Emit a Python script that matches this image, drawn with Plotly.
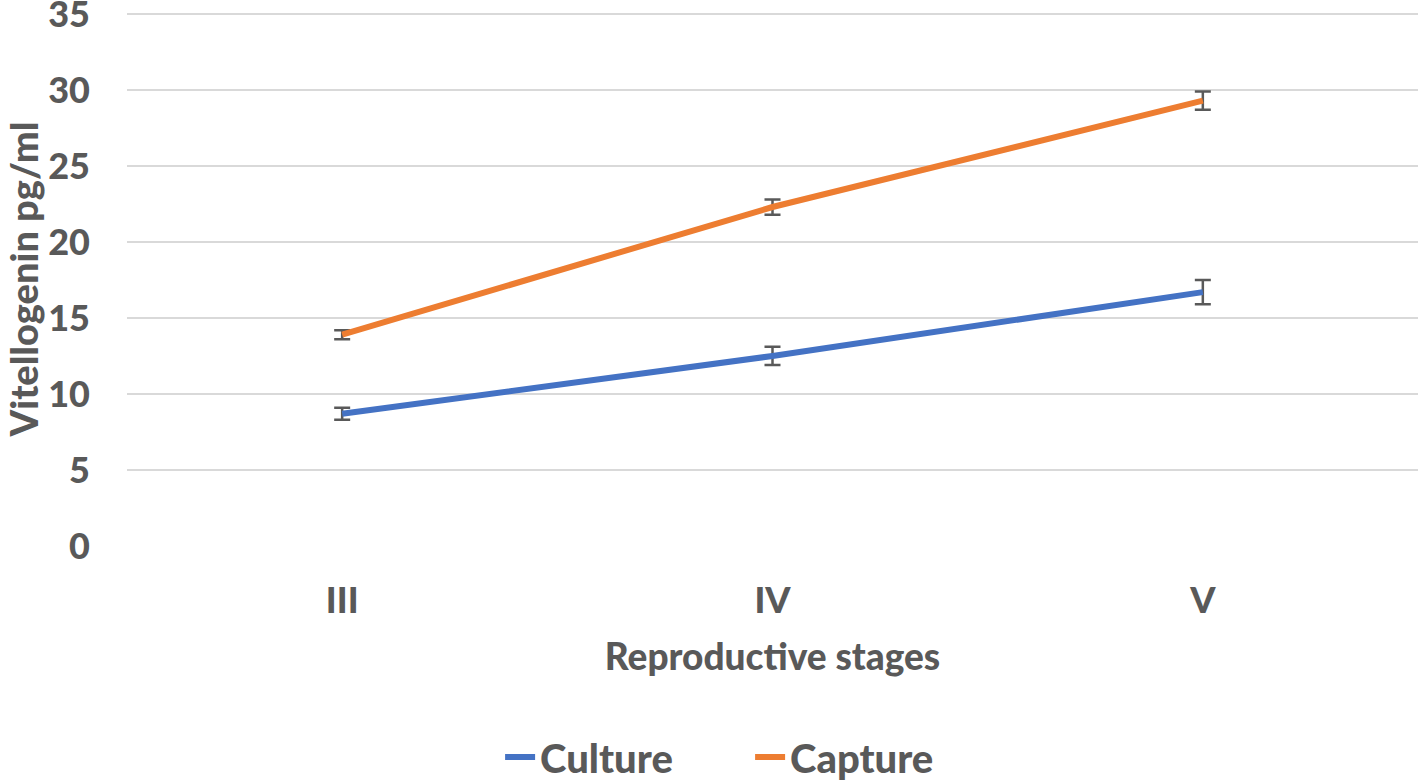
import plotly.graph_objects as go

stages = ["III", "IV", "V"]
culture = [8.7, 12.5, 16.7]
culture_err = [0.4, 0.6, 0.8]
capture = [13.9, 22.3, 29.3]
capture_err = [0.3, 0.5, 0.6]

TXT = "#595959"
FONT = "Lato"
W = 900

fig = go.Figure()
fig.add_trace(go.Scatter(
    x=stages, y=culture, name="Culture", mode="lines",
    line=dict(color="#4472C4", width=6),
    error_y=dict(type="data", array=culture_err, color=TXT, thickness=2.5, width=8),
))
fig.add_trace(go.Scatter(
    x=stages, y=capture, name="Capture", mode="lines",
    line=dict(color="#ED7D31", width=6),
    error_y=dict(type="data", array=capture_err, color=TXT, thickness=2.5, width=8),
))

fig.update_layout(
    width=1418, height=781,
    paper_bgcolor="white", plot_bgcolor="white",
    margin=dict(l=127, r=0, t=12, b=235, autoexpand=False),
    font=dict(family=FONT, color=TXT),
    showlegend=True,
    legend=dict(orientation="h", x=0.289, xanchor="left", y=-0.395, yanchor="middle",
                entrywidth=205,
                font=dict(size=40, family=FONT, color=TXT, weight=W)),
    xaxis=dict(
        type="category", range=[-0.5, 2.5], showgrid=False, zeroline=False, showline=False,
        ticks="", ticklabelstandoff=30, automargin=False,
        tickfont=dict(size=36, family=FONT, color=TXT, weight=W),
        title=dict(text="Reproductive stages", standoff=24,
                   font=dict(size=37, family=FONT, color=TXT, weight=W)),
    ),
    yaxis=dict(
        range=[0, 35.13], tickvals=[0, 5, 10, 15, 20, 25, 30, 35],
        showgrid=True, gridcolor="#D9D9D9", gridwidth=2,
        zeroline=False, showline=False, ticks="", ticklabelstandoff=36, automargin=False,
        ticklabeloverflow="allow",
        tickfont=dict(size=36, family=FONT, color=TXT, weight=W),
        title=dict(text="Vitellogenin pg/ml", standoff=3,
                   font=dict(size=38, family=FONT, color=TXT, weight=W)),
    ),
)

fig.write_html("out.html", config={"displayModeBar": False},
               post_script="document.body.style.margin='0';")
